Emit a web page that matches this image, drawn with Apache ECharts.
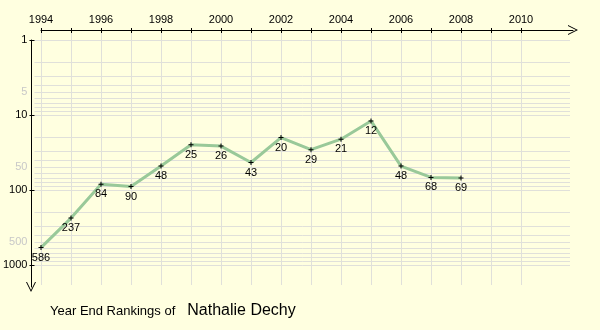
<!DOCTYPE html>
<html><head><meta charset="utf-8">
<script src="https://cdn.jsdelivr.net/npm/echarts@6/dist/echarts.min.js"></script>
<style>html,body{margin:0;padding:0;background:#ffffe0}#c{width:600px;height:330px}</style>
</head><body><div id="c"></div>
<script>
var years = [1994,1995,1996,1997,1998,1999,2000,2001,2002,2003,2004,2005,2006,2007,2008];
var ranks = [586,237,84,90,48,25,26,43,20,29,21,12,48,68,69];
var yTickLabels = [1,10,100,1000];
var minorLabels = [5,50,500];
var gridValues = [1,2,3,4,5,6,7,8,9,10,20,30,40,50,60,70,80,90,100,200,300,400,500,600,700,800,900,1000];
var playerName = 'Nathalie Dechy';
var titleText = 'Year End Rankings of';

var FONT = 'Liberation Sans, Arial, sans-serif';
var GRIDC = '#e0e0da';
var plus = 'path://M2,0L3,0L3,2L5,2L5,3L3,3L3,5L2,5L2,3L0,3L0,2L2,2Z';
var chev = 'path://M5,0L10,10L9,10L5,2L1,10L0,10Z';

var chart = echarts.init(document.getElementById('c'));
var hiddenX = function(i){ return {gridIndex:i, type:'value', show:false, min:0, max:1, axisLine:{onZero:false}}; };
var hiddenY = function(i){ return {gridIndex:i, type:'value', show:false, min:0, max:1, axisLine:{onZero:false}}; };

chart.setOption({
  backgroundColor:'#ffffe0',
  animation:false,
  title:{
    text:'{a|'+titleText+'}{s|}{b|'+playerName+'}',
    left:45, top:297,
    textStyle:{rich:{a:{fontFamily:FONT,fontSize:13,fontWeight:'normal',color:'#000'},
      s:{width:12},
      b:{fontFamily:FONT,fontSize:16,fontWeight:'normal',color:'#000'}}}
  },
  grid:[
    {left:41,right:79,top:40,bottom:65},  //0 data
    {left:41,right:79,top:30,bottom:45},  //1 x ticks/labels/vertical grid
    {left:41,right:79,top:30,bottom:45},  //2 inner x ticks
    {left:41,right:27,top:30,bottom:45},  //3 x axis line with arrow
    {left:31,right:30,top:40,bottom:65},  //4 y labels + horizontal grid
    {left:31,right:30,top:40,bottom:65},  //5 inner y ticks
    {left:31,right:30,top:40,bottom:43}   //6 y axis line with arrow
  ],
  xAxis:[
    {gridIndex:0,type:'value',min:1994,max:2010,show:false},
    {gridIndex:1,type:'value',position:'top',min:1994,max:2010,interval:1,
      axisLine:{show:false,onZero:false},
      axisTick:{show:true,inside:false,length:2,lineStyle:{color:'#000'}},
      axisLabel:{fontFamily:FONT,fontSize:11,color:'#000',margin:5,
        formatter:function(v){return v%2===0?String(v):'';}},
      splitLine:{show:true,lineStyle:{color:GRIDC,width:1}}},
    {gridIndex:2,type:'value',position:'top',min:1994,max:2010,interval:1,
      axisLine:{show:false,onZero:false},
      axisTick:{show:true,inside:true,length:3,lineStyle:{color:'#000'}},
      axisLabel:{show:false},splitLine:{show:false}},
    {gridIndex:3,type:'value',position:'top',min:0,max:1,
      axisLine:{show:true,onZero:false,symbol:['none',chev],symbolSize:[10,10],lineStyle:{color:'#000',width:1}},
      axisTick:{show:false},axisLabel:{show:false},splitLine:{show:false}},
    hiddenX(4),hiddenX(5),hiddenX(6)
  ],
  yAxis:[
    {gridIndex:0,type:'log',logBase:10,min:1,max:1000,inverse:true,show:false},
    hiddenY(1),hiddenY(2),hiddenY(3),
    {gridIndex:4,type:'log',logBase:10,min:1,max:1000,inverse:true,
      axisLine:{show:false,onZero:false},
      axisTick:{show:true,inside:false,length:5,lineStyle:{color:'#000'}},
      axisLabel:{fontFamily:FONT,fontSize:11,color:'#000',margin:7,
        formatter:function(v){return yTickLabels.indexOf(Math.round(v))>=0?String(Math.round(v)):'';}},
      splitLine:{show:false}},
    {gridIndex:5,type:'log',logBase:10,min:1,max:1000,inverse:true,
      axisLine:{show:false,onZero:false},
      axisTick:{show:true,inside:true,length:5,lineStyle:{color:'#000'}},
      axisLabel:{show:false},splitLine:{show:false}},
    {gridIndex:6,type:'value',min:0,max:1,inverse:true,
      axisLine:{show:true,onZero:false,symbol:[chev,'none'],symbolSize:[10,10],lineStyle:{color:'#000',width:1}},
      axisTick:{show:false},axisLabel:{show:false},splitLine:{show:false}}
  ],
  series:[
    {type:'line',xAxisIndex:4,yAxisIndex:4,data:[],silent:true,
      markLine:{silent:true,symbol:['none','none'],animation:false,
        lineStyle:{color:GRIDC,width:1,type:'solid'},
        data:gridValues.map(function(v){
          var show = minorLabels.indexOf(v)>=0;
          return {yAxis:v,label:{show:show,position:'start',formatter:String(v),color:'#c8c8c8',fontFamily:FONT,fontSize:11,distance:7}};
        })}},
    {type:'line',xAxisIndex:0,yAxisIndex:0,z:5,
      data:years.map(function(y,i){return [y,ranks[i]];}),
      lineStyle:{color:'#99c999',width:3},
      symbol:plus,symbolSize:5,showSymbol:true,
      itemStyle:{color:'#000'},
      label:{show:true,position:'bottom',distance:2,color:'#000',fontFamily:FONT,fontSize:11,
        formatter:function(p){return String(p.value[1]);}}}
  ]
});
</script></body></html>
